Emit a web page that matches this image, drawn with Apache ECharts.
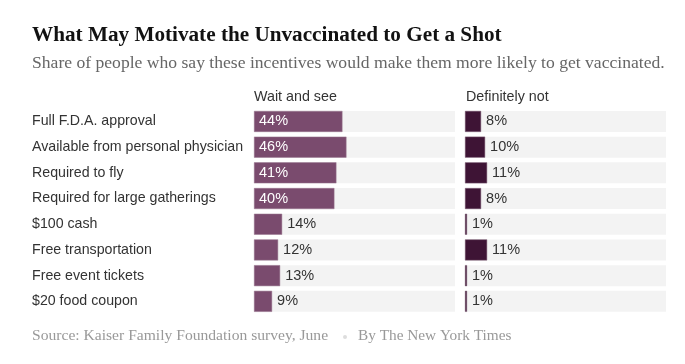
<!DOCTYPE html>
<html><head><meta charset="utf-8">
<script src="https://cdn.jsdelivr.net/npm/echarts@6/dist/echarts.min.js"></script>
<style>html,body{margin:0;padding:0;background:#fff}#c{width:685px;height:364px}</style>
</head><body><div id="c"></div>
<script>
const categories = ["Full F.D.A. approval","Available from personal physician","Required to fly","Required for large gatherings","$100 cash","Free transportation","Free event tickets","$20 food coupon"];
const waitAndSee = [44,46,41,40,14,12,13,9];
const definitelyNot = [8,10,11,8,1,11,1,1];
const seriesNames = ["Wait and see","Definitely not"];

const chart = echarts.init(document.getElementById('c'));
const sans = 'Liberation Sans, Arial, sans-serif';
const serif = 'Liberation Serif, Times New Roman, serif';
function mk(vals, insideMin){
  return vals.map(v => {
    const inside = v >= insideMin;
    return {value: v, label: {
      show: true,
      position: inside ? 'insideLeft' : 'right',
      distance: 5,
      color: inside ? '#ffffff' : '#333333',
      fontSize: 14.5, fontFamily: sans,
      formatter: '{c}%'
    }};
  });
}
const gTop = 108.6, gH = 205.6;
chart.setOption({
  animation: false,
  title: [
    {text: 'What May Motivate the Unvaccinated to Get a Shot', left: 27, top: 20,
     textStyle: {fontFamily: serif, fontWeight: 'bold', fontSize: 21.2, color: '#121212'}},
    {text: 'Share of people who say these incentives would make them more likely to get vaccinated.', left: 27, top: 49,
     textStyle: {fontFamily: serif, fontWeight: 'normal', fontSize: 17.6, color: '#666666'}}
  ],
  grid: [
    {left: 254, top: gTop, width: 201, height: gH},
    {left: 465, top: gTop, width: 201, height: gH}
  ],
  xAxis: [
    {gridIndex: 0, type: 'value', min: 0, max: 100, show: false},
    {gridIndex: 1, type: 'value', min: 0, max: 100, show: false}
  ],
  yAxis: [
    {gridIndex: 0, type: 'category', data: categories, inverse: true,
     axisLine: {show: false}, axisTick: {show: false},
     axisLabel: {align: 'left', margin: 222, fontSize: 14.2, fontFamily: sans, color: '#333333'}},
    {gridIndex: 1, type: 'category', data: categories, inverse: true, show: false}
  ],
  graphic: [
    {type: 'text', left: 254, top: 90, style: {text: seriesNames[0], fontSize: 14.3, fontFamily: sans, fill: '#333333'}},
    {type: 'text', left: 466, top: 90, style: {text: seriesNames[1], fontSize: 14.3, fontFamily: sans, fill: '#333333'}},
    {type: 'text', left: 32, top: 328, style: {text: 'Source: Kaiser Family Foundation survey, June', fontSize: 15.6, fontFamily: serif, fill: '#999999'}},
    {type: 'circle', shape: {cx: 345, cy: 337, r: 2}, style: {fill: '#dddddd'}},
    {type: 'text', left: 358, top: 328, style: {text: 'By The New York Times', fontSize: 15.3, fontFamily: serif, fill: '#999999'}}
  ],
  series: [
    {type: 'bar', name: seriesNames[0], xAxisIndex: 0, yAxisIndex: 0, data: mk(waitAndSee, 30),
     barWidth: 21, showBackground: true, backgroundStyle: {color: '#f3f3f3'},
     itemStyle: {color: '#7a4b6e', borderColor: '#9c7a93', borderWidth: 0.5}},
    {type: 'bar', name: seriesNames[1], xAxisIndex: 1, yAxisIndex: 1, data: mk(definitelyNot, 200),
     barWidth: 21, showBackground: true, backgroundStyle: {color: '#f3f3f3'},
     itemStyle: {color: '#3e1435', borderColor: '#7a5a72', borderWidth: 0.5}}
  ]
});
</script></body></html>
